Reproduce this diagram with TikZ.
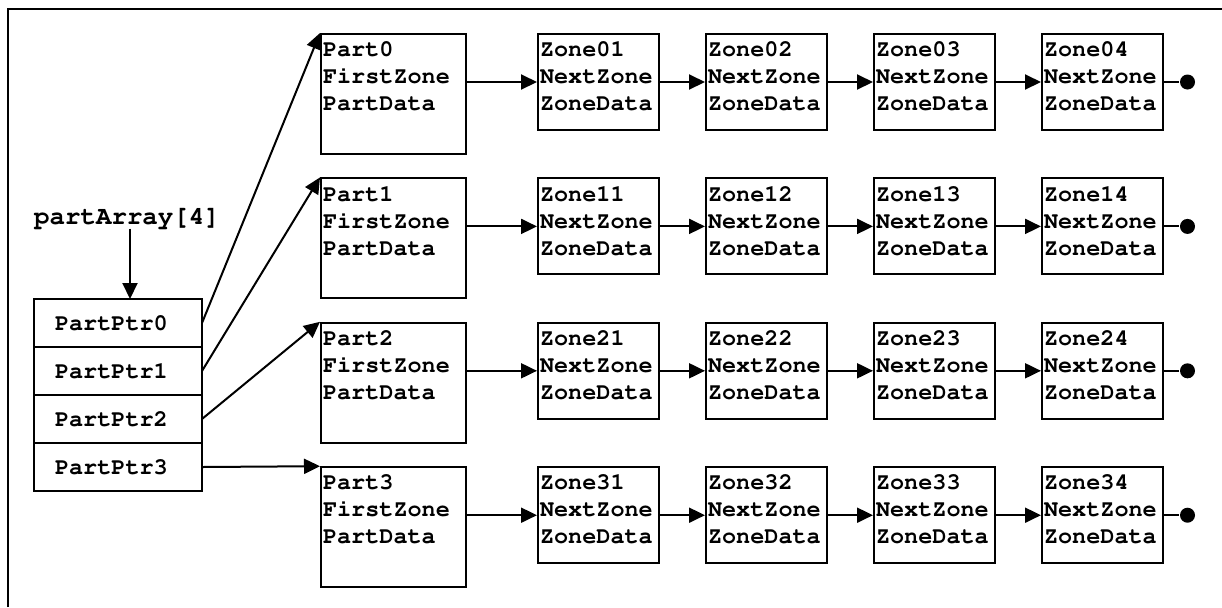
\documentclass[tikz,border=0pt]{standalone}
\usepackage[T1,TU]{fontenc}
\usetikzlibrary{arrows.meta,positioning}

\begin{document}
\begin{tikzpicture}[
    x=0.5pt, y=-0.5pt,
    line width=1pt,
    node distance=22.5pt,
    >={Triangle[length=8pt,width=7.5pt]},
    every node/.style={font=\fontencoding{T1}\fontfamily{pcr}\fontseries{b}\fontsize{11.75}{13.5}\selectfont},
    partbox/.style={rectangle, draw, minimum width=72.5pt, minimum height=60pt, text width=70.5pt, inner xsep=1pt, align=left, execute at end node={\rule[-17.7pt]{0pt}{17.7pt}}},
    zonebox/.style={rectangle, draw, minimum width=60.5pt, minimum height=48pt, text width=58.5pt, inner xsep=1pt, align=left, execute at end node={\rule[-5.7pt]{0pt}{5.7pt}}},
    ptrbox/.style={rectangle, draw, minimum width=84pt, minimum height=24pt, text width=63pt, inner xsep=10.5pt, align=left, outer sep=0pt},
    nil/.style={circle, fill, inner sep=0pt, minimum size=7.5pt}
]
    \useasboundingbox (0,0) rectangle (1222,607);
    \draw (8,607) -- (8,9) -- (1222,9);

    % the pointer array
    \node [inner sep=0pt, anchor=base, font=\fontencoding{T1}\fontfamily{pcr}\fontseries{b}\fontsize{12.9}{14}\selectfont] (parr) at (127,224) {partArray[4]};
    \node [ptrbox] (ptr0) at (118,323) {PartPtr0};
    \node [ptrbox, below=0pt of ptr0] (ptr1) {PartPtr1};
    \node [ptrbox, below=0pt of ptr1] (ptr2) {PartPtr2};
    \node [ptrbox, below=0pt of ptr2] (ptr3) {PartPtr3};

    % parts
    \node [partbox] (part0) at (393.5,94) {Part0\\FirstZone\\PartData};
    \node [partbox, below=11.2pt of part0] (part1) {Part1\\FirstZone\\PartData};
    \node [partbox, below=11.2pt of part1] (part2) {Part2\\FirstZone\\PartData};
    \node [partbox, below=11.2pt of part2] (part3) {Part3\\FirstZone\\PartData};

    % zone lists
    \node [zonebox, below right=0pt and 35pt of part0.north east] (z01) {Zone01\\NextZone\\ZoneData};
    \node [zonebox, right=of z01] (z02) {Zone02\\NextZone\\ZoneData};
    \node [zonebox, right=of z02] (z03) {Zone03\\NextZone\\ZoneData};
    \node [zonebox, right=of z03] (z04) {Zone04\\NextZone\\ZoneData};
    \node [nil, right=7.5pt of z04] (end0) {};

    \node [zonebox, below right=0pt and 35pt of part1.north east] (z11) {Zone11\\NextZone\\ZoneData};
    \node [zonebox, right=of z11] (z12) {Zone12\\NextZone\\ZoneData};
    \node [zonebox, right=of z12] (z13) {Zone13\\NextZone\\ZoneData};
    \node [zonebox, right=of z13] (z14) {Zone14\\NextZone\\ZoneData};
    \node [nil, right=7.5pt of z14] (end1) {};

    \node [zonebox, below right=0pt and 35pt of part2.north east] (z21) {Zone21\\NextZone\\ZoneData};
    \node [zonebox, right=of z21] (z22) {Zone22\\NextZone\\ZoneData};
    \node [zonebox, right=of z22] (z23) {Zone23\\NextZone\\ZoneData};
    \node [zonebox, right=of z23] (z24) {Zone24\\NextZone\\ZoneData};
    \node [nil, right=7.5pt of z24] (end2) {};

    \node [zonebox, below right=0pt and 35pt of part3.north east] (z31) {Zone31\\NextZone\\ZoneData};
    \node [zonebox, right=of z31] (z32) {Zone32\\NextZone\\ZoneData};
    \node [zonebox, right=of z32] (z33) {Zone33\\NextZone\\ZoneData};
    \node [zonebox, right=of z33] (z34) {Zone34\\NextZone\\ZoneData};
    \node [nil, right=7.5pt of z34] (end3) {};

    % links
    \draw [->] ([xshift=1.5pt]parr.south) -- ([xshift=1.5pt]parr.south |- ptr0.north);
    \draw [->] (ptr0.east) -- (part0.north west);
    \draw [->] (ptr1.east) -- (part1.north west);
    \draw [->] (ptr2.east) -- (part2.north west);
    \draw [->] (ptr3.east) -- (part3.north west);

    \draw [->] (part0.east |- z01) -- (z01);
    \draw [->] (z01) -- (z02);
    \draw [->] (z02) -- (z03);
    \draw [->] (z03) -- (z04);
    \draw (z04) -- (end0);

    \draw [->] (part1.east |- z11) -- (z11);
    \draw [->] (z11) -- (z12);
    \draw [->] (z12) -- (z13);
    \draw [->] (z13) -- (z14);
    \draw (z14) -- (end1);

    \draw [->] (part2.east |- z21) -- (z21);
    \draw [->] (z21) -- (z22);
    \draw [->] (z22) -- (z23);
    \draw [->] (z23) -- (z24);
    \draw (z24) -- (end2);

    \draw [->] (part3.east |- z31) -- (z31);
    \draw [->] (z31) -- (z32);
    \draw [->] (z32) -- (z33);
    \draw [->] (z33) -- (z34);
    \draw (z34) -- (end3);
\end{tikzpicture}
\end{document}
